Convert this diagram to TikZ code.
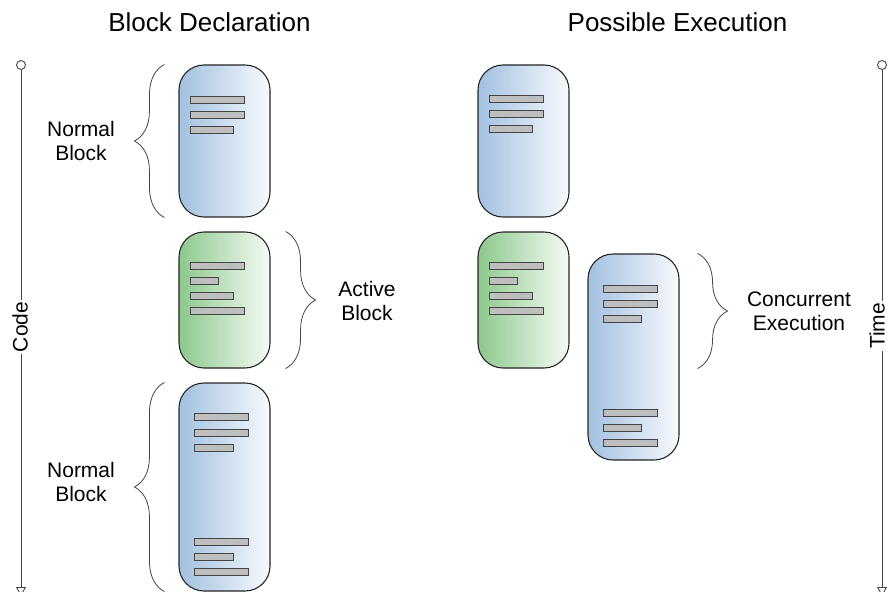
\documentclass[tikz,border=0pt]{standalone}
\usepackage{fontspec}
\setmainfont{Liberation Sans}
\usepackage{xcolor}
\usepackage{tikz}
\usetikzlibrary{arrows.meta,decorations.pathreplacing,positioning}

\definecolor{blockblue}{RGB}{162,192,225}
\definecolor{blockgreen}{RGB}{140,200,140}
\definecolor{bargray}{RGB}{190,190,190}
\definecolor{edgegray}{RGB}{70,70,70}

\tikzset{
  block/.style={draw=black!85, line width=1.1pt, rounded corners=25pt, inner sep=0pt, minimum width=91pt},
  normalblock/.style={block, left color=blockblue, right color=blockblue!8},
  activeblock/.style={block, left color=blockgreen, right color=blockgreen!8},
  codebar/.style={draw=edgegray, fill=bargray, line width=0.7pt},
  curly/.style={draw=edgegray, line width=0.8pt, decorate, decoration={brace, amplitude=30pt}},
  axisline/.style={draw=edgegray, line width=0.9pt},
  note/.style={align=center, font=\fontsize{21}{24}\selectfont},
  headline/.style={anchor=base, font=\fontsize{26}{30}\selectfont}
}

\begin{document}
\begin{tikzpicture}[x=1pt,y=1pt,yscale=-1]
\useasboundingbox (0,0) rectangle (890,591);
\clip (0,0) rectangle (890,591);

% Text Node
\node[headline] (decltitle) at (209.5,32) {Block Declaration};
% Text Node
\node[headline] (exectitle) at (677.5,32) {Possible Execution};

%Code axis
\node[circle, axisline, fill=white, inner sep=0pt, minimum size=9pt] (codetop) at (21,65) {};
\node[note, rotate=90, inner sep=2pt] (codelbl) at (20,327) {Code};
\coordinate (codeend) at (21,596);
\draw[axisline] (codetop) -- (codetop |- codelbl.east);
\draw[axisline, -{Triangle[open, length=9pt, width=10pt]}] (codetop |- codelbl.west) -- (codeend);

%Time axis
\node[circle, axisline, fill=white, inner sep=0pt, minimum size=9pt] (timetop) at (882,65) {};
\node[note, rotate=90, inner sep=2pt] (timelbl) at (877,326) {Time};
\coordinate (timeend) at (882,596);
\draw[axisline] (timetop) -- (timetop |- timelbl.east);
\draw[axisline, -{Triangle[open, length=9pt, width=10pt]}] (timetop |- timelbl.west) -- (timeend);

%Rounded Rect
\node[normalblock, minimum height=152pt] (decl1) at (224.5,141) {};
\node[activeblock, minimum height=136pt] (decl2) at (224.5,300) {};
\node[normalblock, minimum height=208pt] (decl3) at (224.5,487) {};
\node[normalblock, minimum height=152pt] (exec1) at (523.5,141) {};
\node[activeblock, minimum height=136pt] (exec2) at (523.5,300) {};
\node[normalblock, minimum height=206pt] (exec3) at (633.5,357) {};

%Code lines
\draw[codebar] (190,96) rectangle ++(54,7);
\draw[codebar] (190,111) rectangle ++(54,7);
\draw[codebar] (190,126) rectangle ++(43,7);

\draw[codebar] (190,262) rectangle ++(54,7);
\draw[codebar] (190,277) rectangle ++(28,7);
\draw[codebar] (190,292) rectangle ++(43,7);
\draw[codebar] (190,307) rectangle ++(54,7);

\draw[codebar] (194,413) rectangle ++(54,7);
\draw[codebar] (194,429) rectangle ++(54,7);
\draw[codebar] (194,444) rectangle ++(39,7);
\draw[codebar] (194,538) rectangle ++(54,7);
\draw[codebar] (194,553) rectangle ++(39,7);
\draw[codebar] (194,568) rectangle ++(54,7);

\draw[codebar] (489,95) rectangle ++(54,7);
\draw[codebar] (489,110) rectangle ++(54,7);
\draw[codebar] (489,125) rectangle ++(43,7);

\draw[codebar] (489,262) rectangle ++(54,7);
\draw[codebar] (489,277) rectangle ++(28,7);
\draw[codebar] (489,292) rectangle ++(43,7);
\draw[codebar] (489,307) rectangle ++(54,7);

\draw[codebar] (603,285) rectangle ++(54,7);
\draw[codebar] (603,300) rectangle ++(54,7);
\draw[codebar] (603,315) rectangle ++(38,7);
\draw[codebar] (603,409) rectangle ++(54,7);
\draw[codebar] (603,424) rectangle ++(38,7);
\draw[codebar] (603,439) rectangle ++(54,7);

%Braces
\draw[curly] ([xshift=-14pt]decl1.south west) -- ([xshift=-14pt]decl1.north west);
\draw[curly] ([xshift=15pt]decl2.north east) -- ([xshift=15pt]decl2.south east);
\draw[curly] ([xshift=-14pt]decl3.south west) -- ([xshift=-14pt]decl3.north west);
\draw[curly] ([xshift=18pt]exec3.north east) -- ([xshift=18pt]exec3.north east |- exec2.south);

% Text Node
\node[note] (normal1) at (81,141) {Normal\\Block};
% Text Node
\node[note] (active) at (367,301) {Active\\Block};
% Text Node
\node[note] (normal2) at (81,482) {Normal\\Block};
% Text Node
\node[note] (concurrent) at (799,311) {Concurrent\\Execution};

\end{tikzpicture}
\end{document}
